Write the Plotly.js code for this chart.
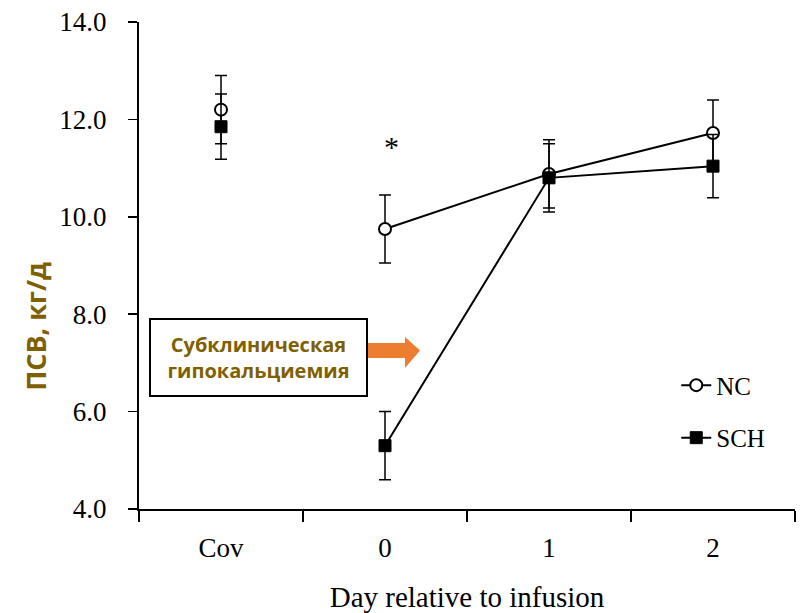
<!DOCTYPE html>
<html>
<head>
<meta charset="utf-8">
<script src="https://cdn.plot.ly/plotly-3.0.1.min.js"></script>
<style>
  html, body { margin: 0; padding: 0; background: #ffffff; }
  #chart { width: 808px; height: 613px; }
</style>
</head>
<body>
<div id="chart"></div>
<script>
// Dry matter intake (ПСВ, кг/д) around the calcium infusion
const days = ["Cov", "0", "1", "2"];
const ncMean = [12.2, 9.75, 10.88, 11.72];
const ncErr = [0.7, 0.7, 0.7, 0.68];
const schMean = [11.85, 5.3, 10.8, 11.04];
const schErr = [0.67, 0.7, 0.7, 0.65];
const yTicks = [4, 6, 8, 10, 12, 14];
const yTickText = ["4.0", "6.0", "8.0", "10.0", "12.0", "14.0"];
const boxText = "Субклиническая<br>гипокальциемия";
const yTitle = "ПСВ, кг/д";
const xTitle = "Day relative to infusion";
const starDay = 1;      // category index of day 0, where the difference is significant
const starLevel = 11.45;

const GOLD = "#7f6000";
const SERIF = "Liberation Serif, Times New Roman, serif";
const SANS = "Open Sans, Noto Sans, sans-serif";

const errStyle = (arr) => ({
  type: "data", array: arr, visible: true,
  color: "#000", thickness: 1.5, width: 6
});

const ncMarker = { symbol: "circle", size: 12, color: "#ffffff", line: { color: "#000", width: 2 } };
const schMarker = { symbol: "square", size: 12, color: "#000", line: { color: "#000", width: 1 } };

// Covariate values stand alone (not joined to the daily series)
const covNC = {
  x: days.slice(0, 1), y: ncMean.slice(0, 1), error_y: errStyle(ncErr.slice(0, 1)),
  type: "scatter", mode: "markers", marker: ncMarker, showlegend: false, hoverinfo: "skip"
};
const covSCH = {
  x: days.slice(0, 1), y: schMean.slice(0, 1), error_y: errStyle(schErr.slice(0, 1)),
  type: "scatter", mode: "markers", marker: schMarker, showlegend: false, hoverinfo: "skip"
};
const nc = {
  x: days.slice(1), y: ncMean.slice(1), error_y: errStyle(ncErr.slice(1)),
  type: "scatter", mode: "lines+markers", name: "NC", legendgroup: "nc",
  line: { color: "#000", width: 2 }, marker: ncMarker
};
const sch = {
  x: days.slice(1), y: schMean.slice(1), error_y: errStyle(schErr.slice(1)),
  type: "scatter", mode: "lines+markers", name: "SCH", legendgroup: "sch",
  line: { color: "#000", width: 2 }, marker: schMarker
};

// Orange block arrow from the label box toward day 0 (paper coordinates)
const arrowPath = "M 0.3491 0.3409 L 0.4055 0.3409 L 0.4055 0.3532 L 0.4284 0.3255 " +
                  "L 0.4055 0.2895 L 0.4055 0.3101 L 0.3491 0.3101 Z";

const layout = {
  width: 808, height: 613,
  margin: { l: 139, r: 13, t: 22, b: 104 },
  paper_bgcolor: "#ffffff", plot_bgcolor: "#ffffff",
  showlegend: true,
  legend: {
    x: 0.819, y: 0.301, xanchor: "left", yanchor: "top",
    font: { family: SERIF, size: 25, color: "#000" },
    bgcolor: "rgba(0,0,0,0)", tracegroupgap: 17, itemwidth: 30
  },
  xaxis: {
    type: "category", categoryorder: "array", categoryarray: days,
    range: [-0.5, 3.5], tickson: "boundaries",
    showline: true, linecolor: "#000", linewidth: 2,
    ticks: "outside", ticklen: 11, tickwidth: 1.5, tickcolor: "#000",
    showgrid: false, zeroline: false, ticklabelstandoff: 14,
    tickfont: { family: SERIF, size: 27, color: "#000" },
    title: { text: xTitle, font: { family: SERIF, size: 29, color: "#000" }, standoff: 24 }
  },
  yaxis: {
    range: [4, 14], tickvals: yTicks, ticktext: yTickText,
    showline: true, linecolor: "#000", linewidth: 2,
    ticks: "outside", ticklen: 9, tickwidth: 1.5, tickcolor: "#000",
    showgrid: false, zeroline: false, ticklabelstandoff: 16,
    tickfont: { family: SERIF, size: 27, color: "#000" }
  },
  shapes: [
    { type: "path", xref: "paper", yref: "paper", path: arrowPath,
      fillcolor: "#ed7d31", line: { width: 0 } }
  ],
  annotations: [
    { xref: "paper", yref: "paper", x: -0.157, y: 0.374, text: "<b>" + yTitle + "</b>",
      textangle: -90, showarrow: false, xanchor: "center", yanchor: "middle",
      font: { family: SANS, size: 27, color: GOLD } },
    { xref: "paper", yref: "paper", x: 0.182, y: 0.311, text: "<b>" + boxText + "</b>",
      showarrow: false, xanchor: "center", yanchor: "middle",
      width: 215, height: 75, borderpad: 0, borderwidth: 2, bordercolor: "#000",
      bgcolor: "#ffffff", align: "center",
      font: { family: SANS, size: 20, color: GOLD } },
    { xref: "x", yref: "y", x: starDay, y: starLevel, xshift: 6, text: "*", showarrow: false,
      font: { family: SERIF, size: 30, color: "#000" } }
  ]
};

Plotly.newPlot("chart", [covNC, covSCH, nc, sch], layout, { displayModeBar: false, staticPlot: true });
</script>
</body>
</html>
